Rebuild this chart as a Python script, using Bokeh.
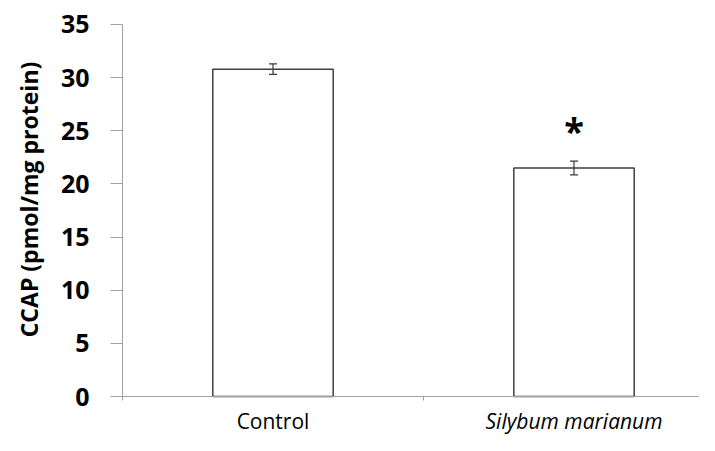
import math
from bokeh.plotting import figure
from bokeh.models import Range1d, FixedTicker, Label, Whisker, ColumnDataSource, TeeHead
from bokeh.embed import file_html
from bokeh.resources import INLINE

categories = ["Control", "Silybum marianum"]
means = [30.8, 21.5]
errors = [0.5, 0.65]
significance = ["", "*"]
label_styles = ["normal", "italic"]
y_ticks = [0, 5, 10, 15, 20, 25, 30, 35]
y_title = "CCAP (pmol/mg protein)"

centers = [i + 0.5 for i in range(len(categories))]
src = ColumnDataSource(dict(
    x=centers,
    top=means,
    upper=[m + e for m, e in zip(means, errors)],
    lower=[m - e for m, e in zip(means, errors)],
))

W, H = 699, 435
p = figure(width=W, height=H, output_backend="svg", toolbar_location=None,
           x_range=Range1d(-0.4053, 1.9169), y_range=Range1d(-3.669, 37.258),
           min_border=0)
p.outline_line_color = None
p.grid.visible = False
p.background_fill_color = "white"
p.border_fill_color = "white"

p.vbar(x="x", top="top", width=0.4, source=src, fill_color="white",
       line_color="#3f3f3f", line_width=1.5)

ecol = "#3a3a3a"
w = Whisker(base="x", upper="upper", lower="lower", source=src, line_color=ecol, line_width=1.2,
            upper_head=TeeHead(size=8, line_color=ecol, line_width=1.2),
            lower_head=TeeHead(size=8, line_color=ecol, line_width=1.2),
            level="annotation")
p.add_layout(w)

axcol = "#a0a0a0"
yax = p.yaxis[0]
yax.fixed_location = 0
yax.bounds = (y_ticks[0], y_ticks[-1])
yax.ticker = FixedTicker(ticks=y_ticks)
yax.major_label_text_font = "Open Sans"
yax.major_label_text_font_style = "bold"
yax.major_label_text_font_size = "25px"
yax.major_label_text_color = "black"
yax.major_tick_out = 12
yax.major_tick_in = 0
yax.minor_tick_out = 0
yax.minor_tick_in = 0
yax.major_label_standoff = 21
yax.axis_line_color = axcol
yax.major_tick_line_color = axcol

xax = p.xaxis[0]
xax.fixed_location = 0
xax.bounds = (0, len(categories))
xax.ticker = FixedTicker(ticks=list(range(len(categories) + 1)))
xax.major_label_overrides = {i: "" for i in range(len(categories) + 1)}
xax.major_tick_out = 4
xax.major_tick_in = 0
xax.minor_tick_out = 0
xax.minor_tick_in = 0
xax.axis_line_color = axcol
xax.major_tick_line_color = axcol

for c, name, style, m, e, s in zip(centers, categories, label_styles, means, errors, significance):
    p.add_layout(Label(x=c, y=0, y_offset=-24, text=name, text_align="center",
                       text_baseline="alphabetic", text_font="Open Sans",
                       text_font_size="21px", text_font_style=style, text_color="black"))
    if s:
        p.add_layout(Label(x=c, y=m + e, y_offset=31, text=s, text_align="center",
                           text_baseline="alphabetic", text_font="Open Sans",
                           text_font_size="36px", text_font_style="bold", text_color="black"))

p.add_layout(Label(x=28, y=236, x_units="screen", y_units="screen", text=y_title,
                   angle=math.pi / 2, text_align="center", text_baseline="middle",
                   text_font="Open Sans", text_font_size="23px", text_font_style="bold",
                   text_color="black"))

open("out.html", "w").write(file_html(p, INLINE))
